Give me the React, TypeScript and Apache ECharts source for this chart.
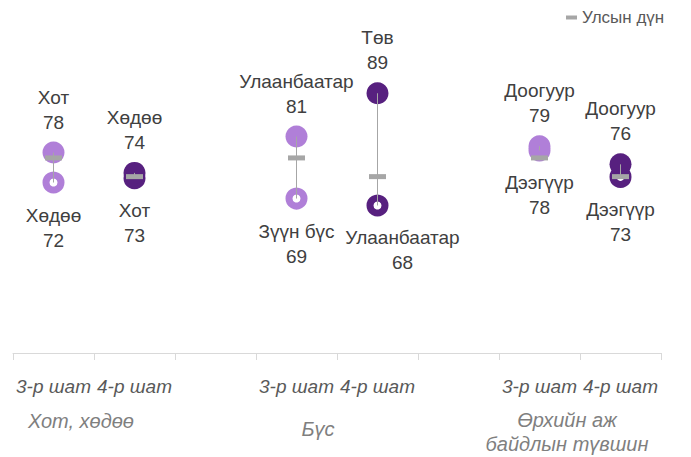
import React, { useEffect, useRef } from "react";
import * as echarts from "echarts";

const categories = ["3-р шат", "4-р шат", "", "3-р шат", "4-р шат", "", "3-р шат", "4-р шат"];
const highNames = ["Хот", "Хөдөө", null, "Улаанбаатар", "Төв", null, "Доогуур", "Доогуур"];
const highValues = [78.0, 74.2, null, 81.0, 89.1, null, 79.2, 75.8];
const lowNames = ["Хөдөө", "Хот", null, "Зүүн бүс", "Улаанбаатар", null, "Дээгүүр", "Дээгүүр"];
const lowValues = [72.4, 73.2, null, 69.4, 68.1, null, 78.4, 73.45];
const nationalValues = [77.0, 73.5, null, 77.0, 73.5, null, 77.0, 73.5];
const groupLabels = ["Хот, хөдөө", "Бүс", "Өрхийн аж\nбайдлын түвшин"];
const legendName = "Улсын дүн";

const LIGHT = "#B07FD8";
const DARK = "#57207F";
const GRAY = "#A6A6A6";
const FONT = "'Liberation Sans', Arial, sans-serif";

const colorFor = (i: number) => (categories[i].startsWith("3") ? LIGHT : DARK);

export default function App() {
  const ref = useRef<HTMLDivElement>(null);
  useEffect(() => {
    if (!ref.current) return;
    const chart = echarts.init(ref.current, undefined, { renderer: "svg" });
    const lowData = lowValues.map((v, i) =>
      v == null
        ? null
        : {
            value: v,
            itemStyle: { color: "#ffffff", borderColor: colorFor(i), borderWidth: 7, opacity: 1 },
            label: i === 4 ? { offset: [25, 0] } : undefined,
          }
    );
    const lineData = highValues
      .map((v, i) => (v == null ? null : [i, v, lowValues[i]]))
      .filter((d) => d != null);
    const groupText = (text: string, x: number, y: number) => ({
      type: "text",
      x,
      y,
      style: {
        text,
        font: `italic 20px ${FONT}`,
        fill: "#7F7F7F",
        textAlign: "center",
        textVerticalAlign: "middle",
        lineHeight: 24,
      },
    });
    chart.setOption({
      animation: false,
      backgroundColor: "#ffffff",
      textStyle: { fontFamily: FONT },
      grid: { left: 13, right: 30, top: 35, bottom: 104 },
      legend: {
        data: [legendName],
        left: 561,
        top: 4,
        icon: "rect",
        itemWidth: 11,
        itemHeight: 4,
        itemGap: 5,
        textStyle: { fontSize: 17, color: "#595959", fontFamily: FONT },
      },
      xAxis: {
        type: "category",
        data: categories,
        axisLine: { lineStyle: { color: "#D9D9D9", width: 1 } },
        axisTick: { show: true, length: 7, interval: 0, lineStyle: { color: "#D9D9D9" } },
        axisLabel: {
          interval: 0,
          margin: 24,
          fontSize: 19,
          fontStyle: "italic",
          fontWeight: "normal",
          color: "#595959",
          fontFamily: FONT,
        },
        splitLine: { show: false },
      },
      yAxis: {
        type: "value",
        min: 40.5,
        max: 100,
        show: false,
        splitLine: { show: false },
      },
      graphic: [
        groupText(groupLabels[0], 81, 421),
        groupText(groupLabels[1], 318, 429),
        groupText(groupLabels[2], 567, 432),
      ],
      series: [
        {
          name: "low",
          type: "scatter",
          symbol: "circle",
          symbolSize: 15,
          data: lowData,
          label: {
            show: true,
            position: "bottom",
            distance: 9,
            fontSize: 19,
            lineHeight: 25,
            color: "#404040",
            fontFamily: FONT,
            formatter: (p: any) => `${lowNames[p.dataIndex]}\n${Math.round(p.value)}`,
          },
          z: 2,
        },
        {
          name: "high",
          type: "scatter",
          symbol: "circle",
          symbolSize: 22,
          data: highValues,
          itemStyle: { color: (p: any) => colorFor(p.dataIndex), opacity: 1 },
          label: {
            show: true,
            position: "top",
            distance: 7,
            fontSize: 19,
            lineHeight: 25,
            color: "#404040",
            fontFamily: FONT,
            formatter: (p: any) => `${highNames[p.dataIndex]}\n${Math.round(p.value)}`,
          },
          z: 3,
        },
        {
          name: "range",
          type: "custom",
          data: lineData,
          encode: { x: 0, y: [1, 2] },
          renderItem: (params: any, api: any) => {
            const p1 = api.coord([api.value(0), api.value(1)]);
            const p2 = api.coord([api.value(0), api.value(2)]);
            return {
              type: "line",
              shape: { x1: p1[0], y1: p1[1], x2: p2[0], y2: p2[1] },
              style: { stroke: GRAY, lineWidth: 1 },
            };
          },
          z: 4,
        },
        {
          name: legendName,
          type: "scatter",
          symbol: "rect",
          symbolSize: [17, 5],
          data: nationalValues,
          itemStyle: { color: GRAY, opacity: 1 },
          z: 5,
        },
      ],
    });
    return () => chart.dispose();
  }, []);
  return (
    <div
      ref={ref}
      style={{ position: "fixed", left: 0, top: 0, width: 691, height: 457, background: "#fff" }}
    />
  );
}
